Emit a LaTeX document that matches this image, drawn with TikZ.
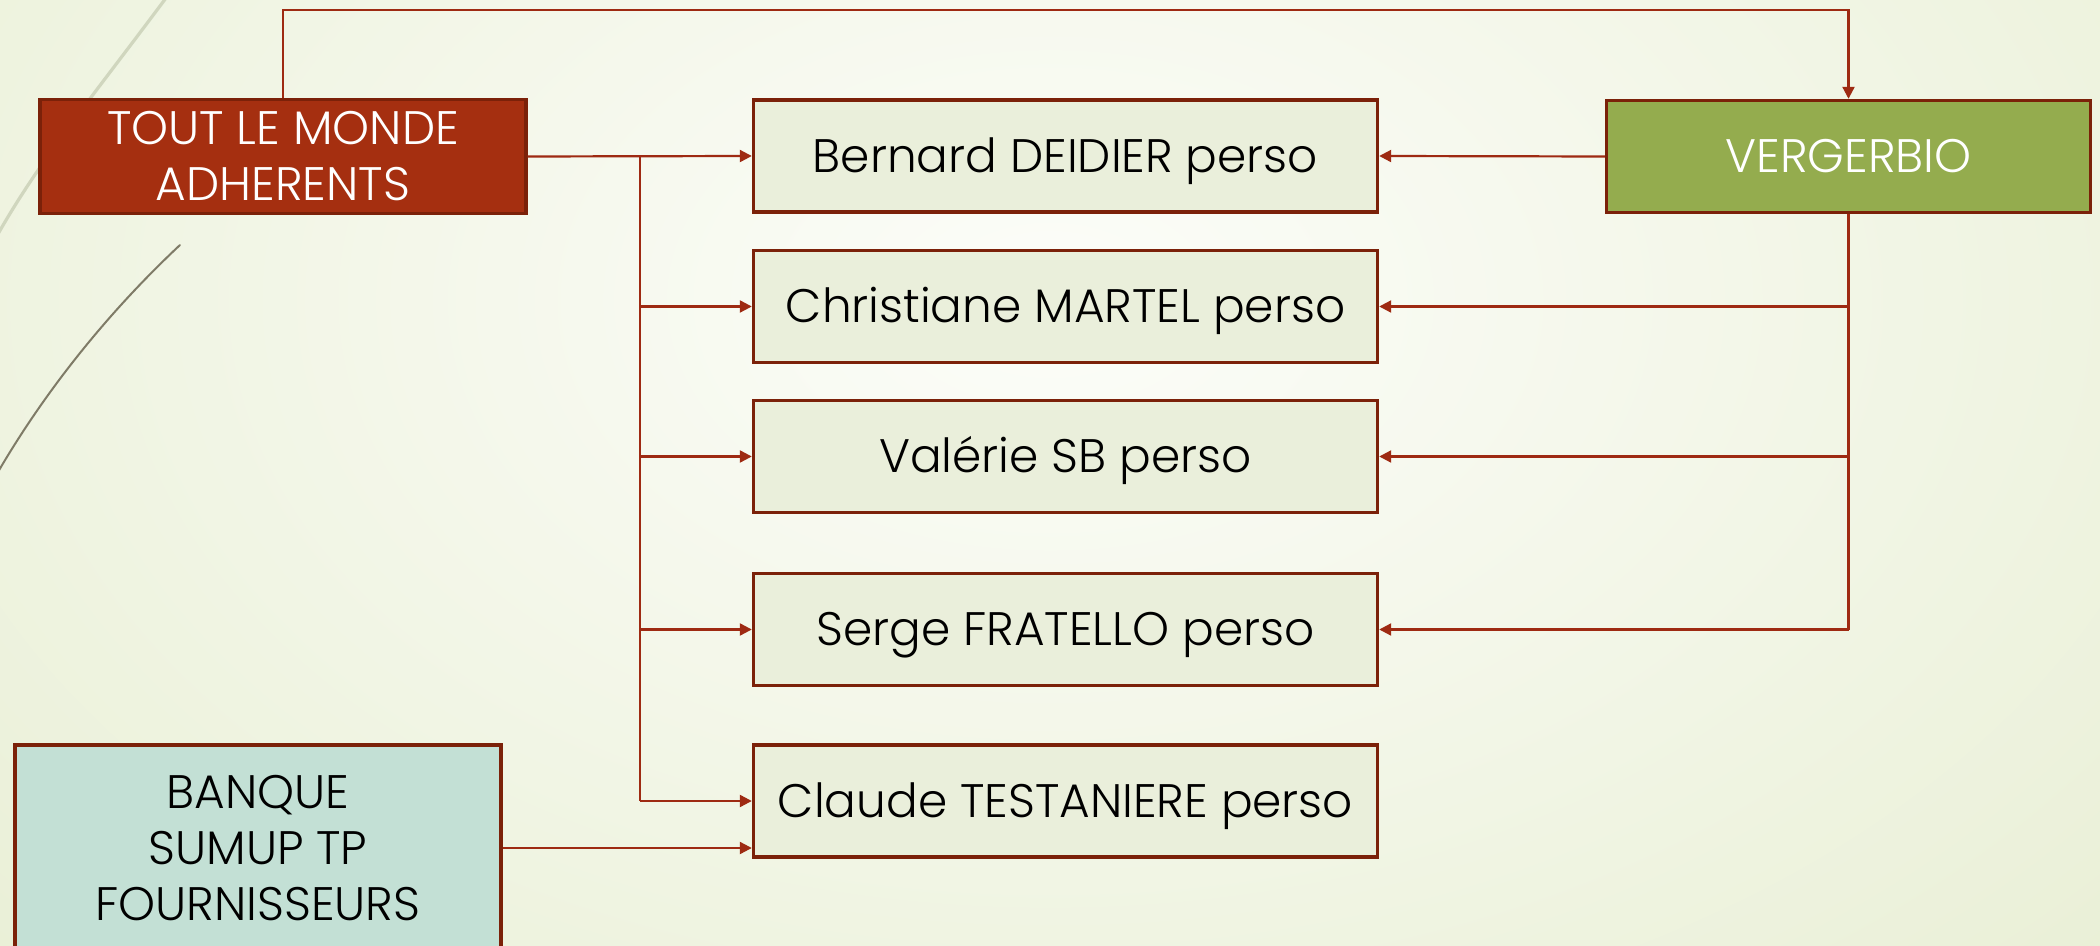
\documentclass[tikz,border=0pt]{standalone}
\usepackage{fontspec}
\setmainfont{Poppins}[UprightFont=* Light]
\usetikzlibrary{arrows.meta}
\definecolor{bgin}{HTML}{FCFDF9}
\definecolor{bgout}{HTML}{DFE8C3}
\definecolor{lnred}{HTML}{9E2A12}
\definecolor{bordred}{HTML}{7B2109}
\definecolor{rust}{HTML}{A52F10}
\definecolor{vgreen}{HTML}{94AC4E}
\definecolor{pfill}{HTML}{EAEFDB}
\definecolor{bfill}{HTML}{C3E0D5}
\definecolor{lightcurve}{HTML}{D0D6BE}
\definecolor{darkcurve}{HTML}{7F7B67}
\tikzset{
  box/.style={draw=bordred, line width=1.7pt, rectangle, align=center,
    font=\fontsize{23.5}{28}\selectfont, inner sep=0pt},
  oneline/.style={text height=16.5pt, text depth=0pt},
  personbox/.style={box, oneline, fill=pfill, text=black, minimum width=312pt, minimum height=56pt},
  conn/.style={draw=lnred, line width=1.1pt},
  arr/.style={conn, -{Triangle[length=6pt,width=6pt]}},
}
\begin{document}
\begin{tikzpicture}[x=0.5pt,y=-0.5pt]
\useasboundingbox (0,0) rectangle (2100,946);
\begin{scope}
\clip (0,0) rectangle (2100,946);
\fill[bgout] (0,0) rectangle (2100,946);
\shade[inner color=bgin, outer color=bgout] (1050,300) ellipse [x radius=2300, y radius=1500];
\draw[lightcurve, line width=1.6pt] (166,-2) .. controls (90,100) and (40,160) .. (-2,234);
\draw[darkcurve, line width=1pt, line cap=round] (180,245) .. controls (100,320) and (40,400) .. (-2,472);
\end{scope}
% nodes
\node[box, fill=rust, text=white, minimum width=243pt, minimum height=57pt] (tout) at (283,156.5) {TOUT LE MONDE\\ADHERENTS};
\node[box, oneline, fill=vgreen, text=white, minimum width=242pt, minimum height=56pt] (verg) at (1848.5,156.5) {VERGERBIO};
\node[personbox] (bernard) at (1065.5,156) {Bernard DEIDIER perso};
\node[personbox] (chris) at (1065.5,306.5) {Christiane MARTEL perso};
\node[personbox] (valerie) at (1065.5,456.5) {Valérie SB perso};
\node[personbox] (serge) at (1065.5,629.5) {Serge FRATELLO perso};
\node[personbox] (claude) at (1065.5,801) {Claude TESTANIERE perso};
\node[box, fill=bfill, text=black, minimum width=243pt, minimum height=103pt] (banque) at (258,848) {BANQUE\\SUMUP TP\\FOURNISSEURS};
% coordinates
\coordinate (topline) at (1000,10);
\coordinate (busl) at (640,0);
% top connector
\draw[arr] (tout.north) -- (tout.north |- topline) -- (verg.north |- topline) -- (verg.north);
% left bus
\draw[arr] (tout.east) -- (bernard.west);
\draw[conn] (busl |- tout.east) -- (busl |- claude.west);
\draw[arr] (busl |- chris.west) -- (chris.west);
\draw[arr] (busl |- valerie.west) -- (valerie.west);
\draw[arr] (busl |- serge.west) -- (serge.west);
\draw[arr] (busl |- claude.west) -- (claude.west);
% right bus
\draw[arr] (verg.west) -- (bernard.east);
\draw[conn] (verg.south) -- (verg.south |- serge.east);
\draw[arr] (verg.south |- chris.east) -- (chris.east);
\draw[arr] (verg.south |- valerie.east) -- (valerie.east);
\draw[arr] (verg.south |- serge.east) -- (serge.east);
% banque
\draw[arr] (banque.east) -- (banque.east -| claude.west);
\end{tikzpicture}
\end{document}
